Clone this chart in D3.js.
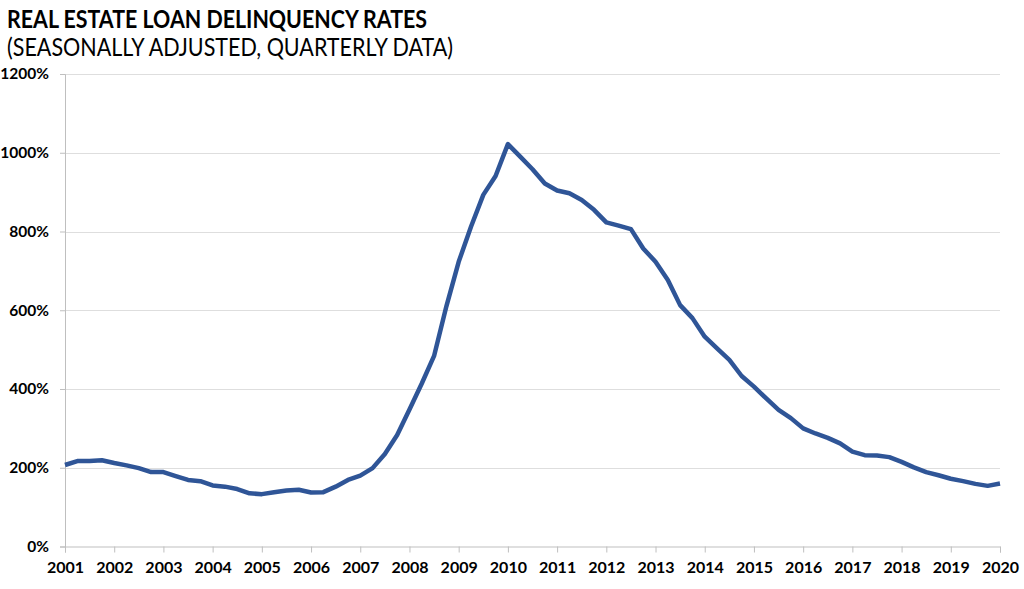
<!DOCTYPE html>
<html>
<head>
<meta charset="utf-8">
<script src="https://cdn.jsdelivr.net/npm/d3@7"></script>
<style>
  body { margin: 0; background: #fff; }
  svg { display: block; font-family: Lato, "Open Sans", sans-serif; }
</style>
</head>
<body>
<svg id="chart" width="1024" height="589"></svg>
<script>
const TITLE = 'REAL ESTATE LOAN DELINQUENCY RATES';
const SUBTITLE = '(SEASONALLY ADJUSTED, QUARTERLY DATA)';

// quarterly, starting 2001 Q1
const START_YEAR = 2001;
const rates = [
  207, 217, 217, 219, 212, 206, 199, 189, 189, 179, 169, 166, 155, 152, 146, 135,
  133, 138, 142, 144, 137, 138, 152, 169, 180, 199, 235, 283, 348, 414, 484, 610,
  723, 812, 893, 941, 1022, 990, 958, 922, 904, 897, 880, 855, 823, 815, 806, 757,
  723, 677, 613, 580, 533, 503, 474, 433, 406, 376, 347, 326, 300, 287, 276, 262,
  241, 232, 231, 227, 215, 201, 189, 181, 172, 166, 159, 154, 160
];

const yearTicks = d3.range(2001, 2021);
const rateTicks = [0, 200, 400, 600, 800, 1000, 1200];

const svg = d3.select('#chart');

const x = d3.scaleLinear()
  .domain([2001, 2020])
  .range([65, 1000]);

const y = d3.scaleLinear()
  .domain([0, 1200])
  .range([546.5, 74]);

let points = rates.map((v, i) => ({ t: START_YEAR + i / 4, v }));

// titles
svg.append('text')
  .attr('x', 7).attr('y', 28)
  .style('font-size', '25.5px').style('font-weight', 700)
  .attr('textLength', 420).attr('lengthAdjust', 'spacingAndGlyphs')
  .text(TITLE);
svg.append('text')
  .attr('x', 7).attr('y', 56)
  .style('font-size', '25.5px').style('font-weight', 400)
  .attr('textLength', 446).attr('lengthAdjust', 'spacingAndGlyphs')
  .text(SUBTITLE);

// gridlines
svg.append('g')
  .selectAll('line')
  .data(rateTicks.filter(d => d > 0))
  .join('line')
  .attr('x1', x(2001)).attr('x2', x(2020))
  .attr('y1', d => Math.round(y(d)) + 0.5).attr('y2', d => Math.round(y(d)) + 0.5)
  .style('stroke', '#dedede')
  .style('stroke-width', 1);

// y axis
let yAxis = svg.append('g')
  .attr('transform', `translate(${x(2001)},0)`)
  .call(d3.axisLeft(y).tickValues(rateTicks).tickSize(5).tickPadding(11)
    .tickFormat(d => d + '%'));
yAxis.selectAll('path, line').style('stroke', '#bfbfbf');
yAxis.selectAll('text')
  .style('font-family', 'Lato, sans-serif')
  .style('font-size', '15.5px').style('font-weight', 700)
  .style('fill', '#000');

// x axis
let xAxis = svg.append('g')
  .attr('transform', `translate(0,${y(0)})`)
  .call(d3.axisBottom(x).tickValues(yearTicks).tickSize(6).tickPadding(9)
    .tickFormat(d3.format('d')));
xAxis.selectAll('path, line').style('stroke', '#bfbfbf');
xAxis.selectAll('text')
  .style('font-family', 'Lato, sans-serif')
  .style('font-size', '16px').style('font-weight', 700)
  .style('fill', '#000');

// series
svg.append('path')
  .datum(points)
  .attr('d', d3.line().x(d => x(d.t)).y(d => y(d.v)))
  .style('fill', 'none')
  .style('stroke', '#2f5597')
  .style('stroke-width', 4.5)
  .style('stroke-linejoin', 'round');
</script>
</body>
</html>
